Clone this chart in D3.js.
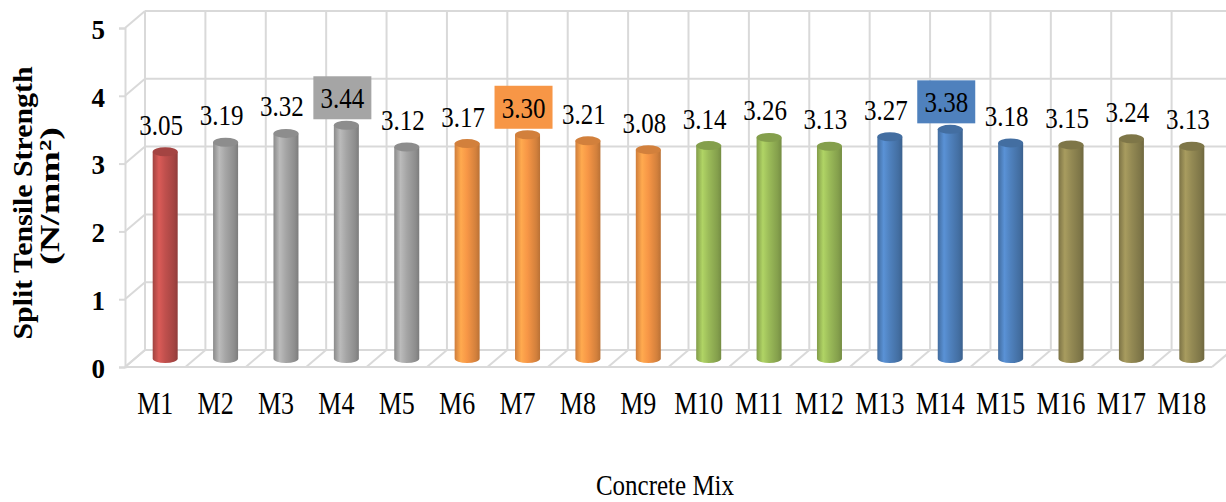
<!DOCTYPE html>
<html><head><meta charset="utf-8">
<script src="https://cdn.jsdelivr.net/npm/d3@7"></script>
<style>
html,body{margin:0;padding:0;background:#fff;}
svg{display:block;}
text{font-family:"Liberation Serif","Times New Roman",serif;}
</style></head>
<body><svg id="c" width="1226" height="502"></svg>
<script>
const categories = ["M1","M2","M3","M4","M5","M6","M7","M8","M9","M10","M11","M12","M13","M14","M15","M16","M17","M18"];
const values = [3.05,3.19,3.32,3.44,3.12,3.17,3.30,3.21,3.08,3.14,3.26,3.13,3.27,3.38,3.18,3.15,3.24,3.13];
const groups = ["ctrl","g1","g1","g1","g1","g2","g2","g2","g2","g3","g3","g3","g4","g4","g4","g5","g5","g5"];
const highlighted = ["M4","M7","M14"];
const yTicks = [0,1,2,3,4,5];
const groupColors = {ctrl:"#c0504d", g1:"#a5a5a5", g2:"#f79646", g3:"#9bbb59", g4:"#4f81bd", g5:"#948a54"};
const yTitle1 = "Split Tensile Strength";
const yTitle2 = "(N/mm²)";
const xTitle = "Concrete Mix";

const FONT = '"Liberation Serif","Times New Roman",serif';
const SY = 1.18;
const svg = d3.select("#c");
const DX = 20, DY = -17;
const x = d3.scaleBand().domain(categories).range([125, 1212]).padding(0);
const y = d3.scaleLinear().domain([0,5]).range([367, 28]);
const grid = "#d9d9d9";

const defs = svg.append("defs");
Object.entries(groupColors).forEach(([k,c]) => {
  const base = d3.color(c);
  const g = defs.append("linearGradient").attr("id","grad-"+k).attr("x1","0%").attr("x2","100%");
  [[0, base.darker(0.5)],[0.25, base.brighter(0.35)],[0.5, base],[0.85, base.darker(0.45)],[1, base.darker(0.8)]]
    .forEach(([o,col]) => g.append("stop").attr("offset", o).attr("stop-color", col.formatHex()));
});

const gw = svg.append("g").attr("stroke", grid).attr("stroke-width", 2).attr("fill","none");
const xL = x.range()[0], xR = x.range()[1];
yTicks.forEach(t => {
  gw.append("line").attr("x1", xL).attr("y1", y(t)).attr("x2", xL+DX).attr("y2", y(t)+DY);
  gw.append("line").attr("x1", xL+DX).attr("y1", y(t)+DY).attr("x2", 1226).attr("y2", y(t)+DY);
});
const bounds = categories.map(c => x(c)).concat([xR]);
bounds.forEach(b => {
  gw.append("line").attr("x1", b+DX).attr("y1", y(0)+DY).attr("x2", b+DX).attr("y2", y(5)+DY);
  gw.append("line").attr("x1", b).attr("y1", y(0)).attr("x2", b+DX).attr("y2", y(0)+DY);
});
gw.append("line").attr("x1", xL).attr("y1", y(0)).attr("x2", xR).attr("y2", y(0));

const yAxis = svg.append("g").attr("transform", `translate(${xL},0)`)
  .call(d3.axisLeft(y).tickValues(yTicks).tickSize(6).tickPadding(14).tickFormat(d3.format("d")));
yAxis.attr("font-family", FONT);
yAxis.selectAll("path,line").attr("stroke", grid).attr("stroke-width", 2);
yAxis.selectAll("text").attr("font-size", 27).attr("font-weight","bold").attr("fill","#000")
  .attr("font-family", FONT).attr("dy","0.38em");

const xAxis = svg.append("g").attr("transform", `translate(0,${y(0)})`)
  .call(d3.axisBottom(x).tickSize(0).tickPadding(0));
xAxis.attr("font-family", FONT);
xAxis.select(".domain").remove();
xAxis.selectAll(".tick text").attr("font-size", 26).attr("fill","#000")
  .attr("font-family", FONT).attr("y", null).attr("dy", null)
  .attr("transform", `translate(0,47) scale(1,${SY})`);

const bw = 25, rx = bw/2, ry = 4.5;
const bx = c => x(c) + x.bandwidth()/2 + DX/2;
const byOff = DY/2;
const bars = svg.append("g");
categories.forEach((c,i) => {
  const cx = bx(c), top = y(values[i]) + byOff, bot = y(0) + byOff;
  bars.append("path")
    .attr("d", `M${cx-rx},${top} V${bot} A${rx},${ry} 0 0 0 ${cx+rx},${bot} V${top} Z`)
    .attr("fill", `url(#grad-${groups[i]})`);
  bars.append("ellipse").attr("cx", cx).attr("cy", top).attr("rx", rx).attr("ry", ry)
    .attr("fill", d3.color(groupColors[groups[i]]).darker(0.45).formatHex());
});

const labels = svg.append("g");
categories.forEach((c,i) => {
  const cx = bx(c) - 4, base = y(values[i]) + byOff - 17;
  if (highlighted.includes(c)) {
    labels.append("rect").attr("x", cx-29).attr("y", base-32).attr("width", 58).attr("height", 43)
      .attr("fill", groupColors[groups[i]]);
  }
  labels.append("text").attr("transform", `translate(${cx},${base}) scale(1,${SY})`)
    .attr("text-anchor","middle").attr("font-family", FONT)
    .attr("font-size", 25).attr("fill","#000").text(values[i].toFixed(2));
});

const t = svg.append("g").attr("font-weight","bold").attr("fill","#000").attr("font-family", FONT);
t.append("text").attr("transform","translate(32,203) rotate(-90)").attr("text-anchor","middle")
  .attr("font-family", FONT).attr("font-size", 28).attr("textLength", 273).attr("lengthAdjust","spacingAndGlyphs").text(yTitle1);
t.append("text").attr("transform","translate(59,196) rotate(-90)").attr("text-anchor","middle")
  .attr("font-family", FONT).attr("font-size", 28).attr("textLength", 138).attr("lengthAdjust","spacingAndGlyphs").text(yTitle2);
svg.append("text").attr("transform", `translate(665,495) scale(1,${SY})`).attr("text-anchor","middle")
  .attr("font-family", FONT).attr("font-size", 25).attr("fill","#000").text(xTitle);
</script></body></html>
